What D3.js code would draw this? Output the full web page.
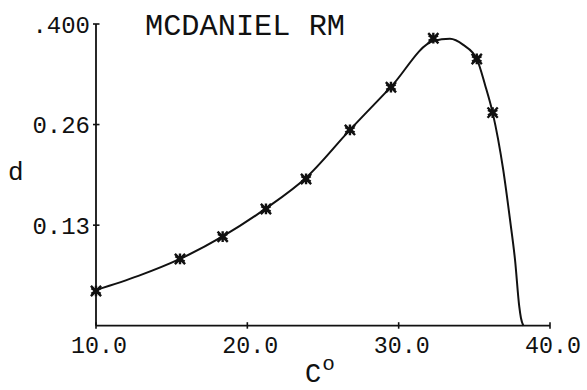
<!DOCTYPE html>
<html>
<head>
  <meta charset='utf-8'>
  <title>McDaniel RM</title>
  <script src='https://cdn.jsdelivr.net/npm/d3@7'></script>
  <style>
    body { margin: 0; background: #fff; }
    text { font-family: 'Liberation Mono', 'DejaVu Sans Mono', monospace; fill: #111; }
  </style>
</head>
<body>
  <svg id='plot' width='587' height='390'></svg>
  <script>
    // measured points (asterisks)
    const pointC = [10.0, 15.55, 18.37, 21.23, 23.88, 26.78, 29.49, 32.29, 35.16, 36.21];
    const pointD = [0.046, 0.0885, 0.118, 0.1548, 0.1946, 0.2596, 0.3162, 0.3812, 0.3537, 0.2825];

    // fitted curve
    const curveC = [10.0, 12.8, 15.55, 18.37, 21.23, 23.88, 26.78, 29.49, 32.29, 33.39, 34.27,
                    35.16, 35.71, 36.21, 36.91, 37.36, 37.69, 37.97, 38.08, 38.24];
    const curveD = [0.0473, 0.066, 0.0885, 0.1183, 0.1555, 0.1962, 0.2596, 0.3166, 0.3775, 0.3805, 0.3723,
                    0.3537, 0.3192, 0.2825, 0.2065, 0.1402, 0.0871, 0.0252, 0.0102, 0.0];

    const xTicks = [10, 20, 30, 40];
    const xTickLabels = ['10.0', '20.0', '30.0', '40.0'];
    const yTicks = [0.1333, 0.2667, 0.4];
    const yTickLabels = ['0.13', '0.26', '.400'];

    const svg = d3.select('#plot');
    const x = d3.scaleLinear().domain([10, 40]).range([96, 550]);
    const y = d3.scaleLinear().domain([0, 0.4]).range([325.7, 24]);
    const ink = '#111';

    // axes
    svg.append('line')
        .attr('x1', x(10)).attr('x2', x(40))
        .attr('y1', y(0)).attr('y2', y(0))
        .attr('stroke', ink).attr('stroke-width', 1.8);
    svg.append('line')
        .attr('x1', x(10)).attr('x2', x(10))
        .attr('y1', y(0)).attr('y2', y(0.4))
        .attr('stroke', ink).attr('stroke-width', 1.8);

    svg.selectAll('.xtick').data(xTicks).enter().append('line')
        .attr('class', 'xtick')
        .attr('x1', d => x(d)).attr('x2', d => x(d))
        .attr('y1', y(0) - 3.5).attr('y2', y(0) + 3)
        .attr('stroke', ink).attr('stroke-width', 1.6);
    svg.selectAll('.xlab').data(xTicks).enter().append('text')
        .attr('class', 'xlab')
        .attr('x', d => x(d) + 3).attr('y', y(0) + 27.5)
        .attr('text-anchor', 'middle')
        .attr('font-size', 24)
        .attr('textLength', 56)
        .attr('lengthAdjust', 'spacingAndGlyphs')
        .text((d, i) => xTickLabels[i]);

    svg.selectAll('.ytick').data(yTicks).enter().append('line')
        .attr('class', 'ytick')
        .attr('x1', x(10) - 3).attr('x2', x(10) + 3.5)
        .attr('y1', d => y(d)).attr('y2', d => y(d))
        .attr('stroke', ink).attr('stroke-width', 1.6);
    svg.selectAll('.ylab').data(yTicks).enter().append('text')
        .attr('class', 'ylab')
        .attr('x', 90).attr('y', d => y(d) + 8.5)
        .attr('text-anchor', 'end')
        .attr('font-size', 24)
        .text((d, i) => yTickLabels[i]);

    // axis titles
    svg.append('text')
        .attr('x', 8).attr('y', 180)
        .attr('font-size', 26)
        .text('d');
    const cLabel = svg.append('text')
        .attr('x', 305).attr('y', 382)
        .attr('font-size', 27)
        .text('C');
    cLabel.append('tspan')
        .attr('dx', 1)
        .attr('dy', -12)
        .attr('font-size', 21)
        .text('o');

    svg.append('text')
        .attr('x', 145).attr('y', 35)
        .attr('font-size', 29)
        .attr('textLength', 200)
        .attr('lengthAdjust', 'spacingAndGlyphs')
        .text('MCDANIEL RM');

    // curve
    const line = d3.line()
        .x(i => x(curveC[i]))
        .y(i => y(curveD[i]))
        .curve(d3.curveMonotoneX);
    svg.append('path')
        .attr('d', line(d3.range(curveC.length)))
        .attr('fill', 'none')
        .attr('stroke', ink)
        .attr('stroke-width', 2);

    // markers
    const marks = svg.selectAll('.mark').data(d3.range(pointC.length)).enter().append('g')
        .attr('class', 'mark')
        .attr('transform', i => `translate(${x(pointC[i])},${y(pointD[i])})`);
    marks.append('path')
        .attr('d', d3.symbol(d3.symbolAsterisk, 80))
        .attr('fill', 'none').attr('stroke', ink).attr('stroke-width', 2.4);
    marks.append('path')
        .attr('d', d3.symbol(d3.symbolTimes, 70))
        .attr('fill', 'none').attr('stroke', ink).attr('stroke-width', 2.4);
    marks.append('circle')
        .attr('r', 2.8).attr('fill', ink);
  </script>
</body>
</html>
